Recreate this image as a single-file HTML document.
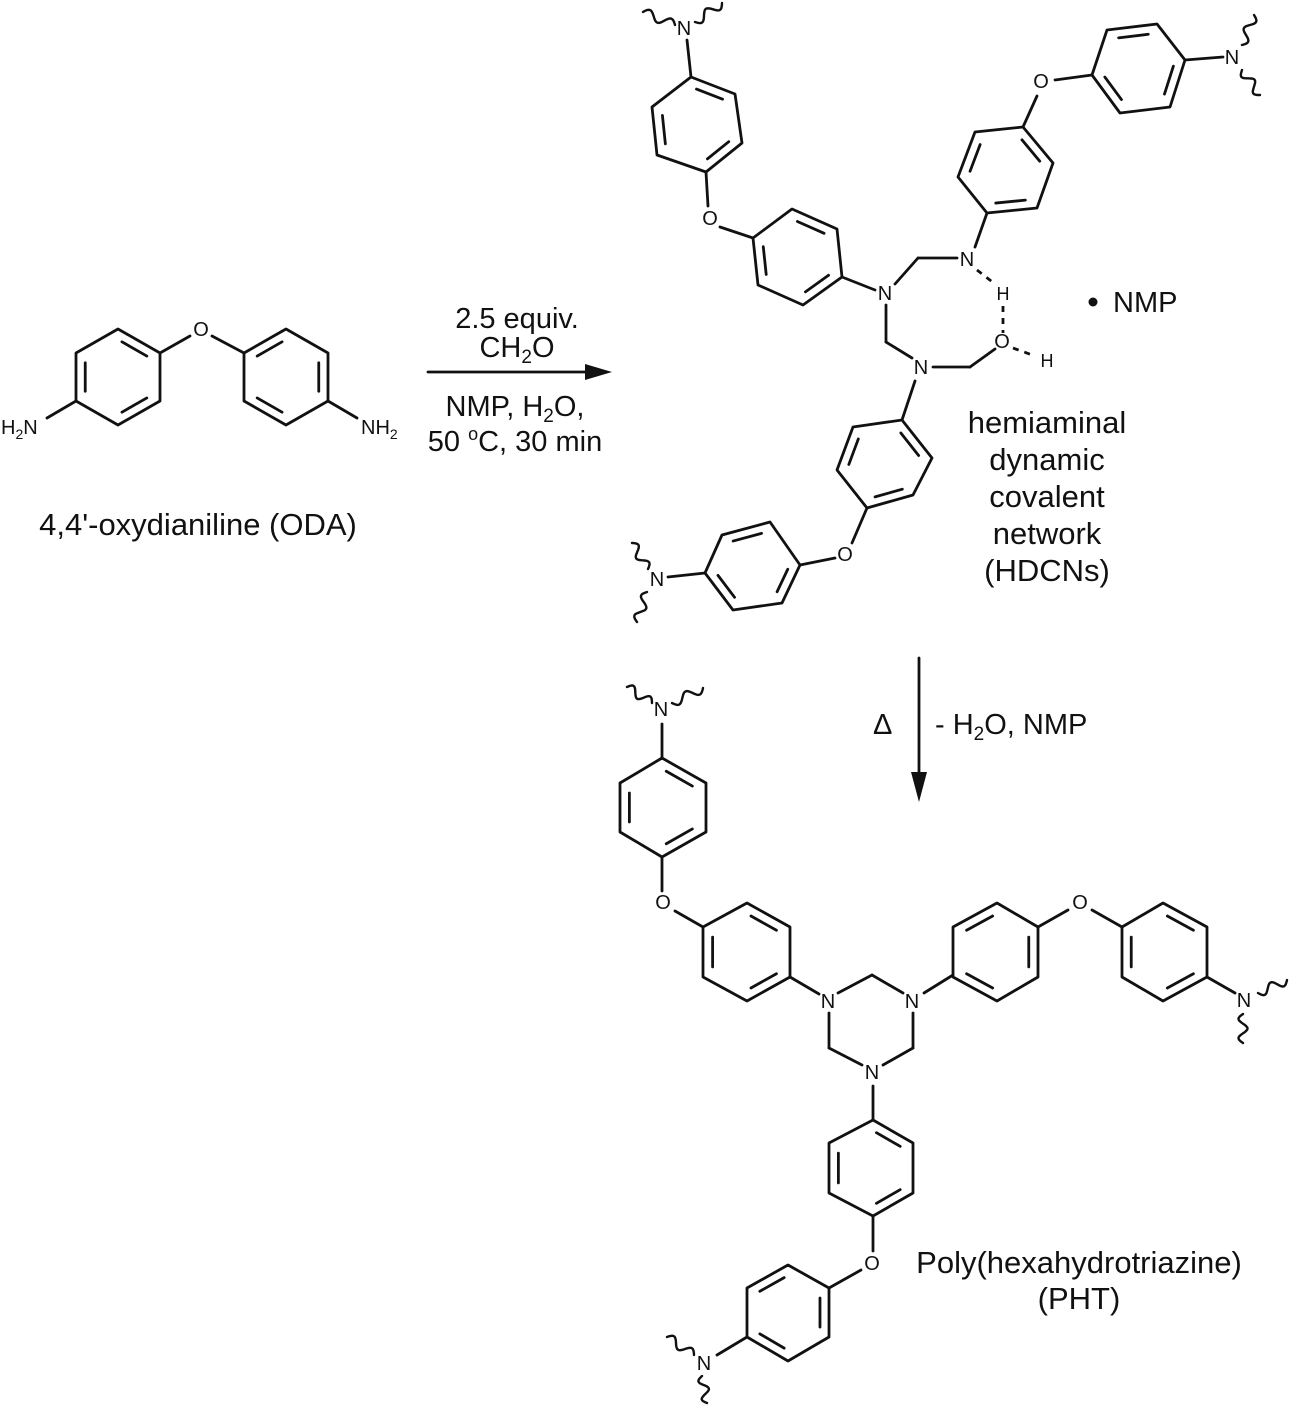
<!DOCTYPE html>
<html><head><meta charset="utf-8"><style>
html,body{margin:0;padding:0;background:#fff;}
svg{display:block;}
text{font-family:"Liberation Sans",Arial,sans-serif;fill:#111;}
.a{font-size:20px;text-anchor:middle;dominant-baseline:central;}
.l{font-size:31px;text-anchor:middle;}
.c{font-size:29px;text-anchor:middle;}
</style></head><body>
<svg id="s" width="1291" height="1410" viewBox="0 0 1291 1410" xmlns="http://www.w3.org/2000/svg">
<g id="g" stroke="#111" stroke-width="2.8" fill="none" stroke-linejoin="round" stroke-linecap="round">
<polygon points="118,329 160,353 160,401 118,425 76,401 76,353"/>
<polygon points="286,329 328,353 328,401 286,425 244,401 244,353"/>
<line x1="160" y1="353" x2="190" y2="336"/><line x1="212" y1="336" x2="244" y2="353"/>
<line x1="76" y1="401" x2="47" y2="418"/><line x1="328" y1="401" x2="357" y2="418"/>
<line x1="428" y1="372" x2="595" y2="372"/>
<line x1="687" y1="40" x2="691" y2="77"/>
<polygon points="691,77 735,94 742,143 706,172 657,155 652,107"/>
<line x1="706" y1="172" x2="708" y2="206"/>
<line x1="720" y1="227" x2="753" y2="238"/>
<polygon points="753,238 792,209 837,229 842,277 803,305 758,285"/>
<line x1="842" y1="277" x2="875" y2="290"/>
<line x1="895" y1="284" x2="918" y2="258"/><line x1="918" y1="258" x2="957" y2="258"/>
<line x1="886" y1="305" x2="886" y2="342"/><line x1="886" y1="342" x2="912" y2="358"/>
<line x1="933" y1="367" x2="970" y2="367"/><line x1="970" y1="367" x2="995" y2="349"/>
<line x1="975" y1="247" x2="987" y2="213"/>
<polygon points="987,213 1037,208 1053,163 1023,127 975,132 958,177"/>
<line x1="1023" y1="127" x2="1037" y2="96"/>
<line x1="1055" y1="80" x2="1092" y2="75"/>
<polygon points="1092,75 1107,30 1157,24 1185,60 1170,107 1120,113"/>
<line x1="1185" y1="60" x2="1223" y2="57"/>
<g stroke-dasharray="6,6" stroke-linecap="butt">
<line x1="977" y1="270" x2="995" y2="284"/>
<line x1="1003" y1="306" x2="1003" y2="333"/>
<line x1="1013" y1="348" x2="1035" y2="356"/>
</g>
<line x1="915" y1="381" x2="902" y2="420"/>
<polygon points="902,420 932,458 913,495 867,508 837,470 853,427"/>
<line x1="867" y1="508" x2="852" y2="543"/>
<line x1="835" y1="558" x2="800" y2="565"/>
<polygon points="800,565 770,522 722,535 705,573 733,610 782,603"/>
<line x1="668" y1="577" x2="705" y2="573"/>
<line x1="919" y1="658" x2="919" y2="780"/>
<line x1="662" y1="724" x2="662" y2="758"/>
<polygon points="662,758 706,783 706,832 662,857 620,832 620,783"/>
<line x1="662" y1="857" x2="662" y2="891"/>
<line x1="675" y1="911" x2="703" y2="927"/>
<polygon points="703,927 747,903 790,927 790,977 747,1001 703,977"/>
<line x1="790" y1="977" x2="819" y2="994"/>
<line x1="838" y1="993" x2="872" y2="975"/><line x1="872" y1="975" x2="903" y2="993"/>
<line x1="829" y1="1013" x2="829" y2="1048"/><line x1="829" y1="1048" x2="862" y2="1065"/>
<line x1="913" y1="1013" x2="913" y2="1048"/><line x1="913" y1="1048" x2="883" y2="1065"/>
<line x1="924" y1="993" x2="953" y2="975"/>
<polygon points="953,927 997,903 1038,927 1038,977 997,1001 953,977"/>
<line x1="1038" y1="927" x2="1068" y2="910"/><line x1="1092" y1="910" x2="1122" y2="927"/>
<polygon points="1122,927 1163,903 1207,927 1207,977 1163,1001 1122,977"/>
<line x1="1207" y1="977" x2="1235" y2="993"/>
<line x1="873" y1="1086" x2="873" y2="1120"/>
<polygon points="873,1120 913,1143 913,1193 873,1216 829,1193 829,1143"/>
<line x1="873" y1="1216" x2="873" y2="1251"/>
<line x1="861" y1="1270" x2="829" y2="1288"/>
<polygon points="829,1288 788,1265 747,1288 747,1337 788,1361 829,1337"/>
<line x1="747" y1="1337" x2="717" y2="1355"/>
</g>
<g fill="#111">
<polygon points="612,372 585,364 585,380"/>
<polygon points="919,802 911,772 927,772"/>
<circle cx="1093" cy="302" r="4.5"/>
</g>
<text class="a" x="201" y="330">O</text>
<text x="1" y="434" style="font-size:20px">H<tspan style="font-size:14px" dy="5">2</tspan><tspan dy="-5">N</tspan></text>
<text x="361" y="434" style="font-size:20px">NH<tspan style="font-size:14px" dy="5">2</tspan></text>
<text class="a" x="684" y="29">N</text>
<text class="a" x="710" y="219">O</text>
<text class="a" x="885" y="294">N</text>
<text class="a" x="967" y="260">N</text>
<text class="a" x="1003" y="294" style="font-size:18px">H</text>
<text class="a" x="1002" y="342">O</text>
<text class="a" x="1047" y="361" style="font-size:18px">H</text>
<text class="a" x="921" y="368">N</text>
<text class="a" x="1041" y="82">O</text>
<text class="a" x="1232" y="58">N</text>
<text class="a" x="845" y="555">O</text>
<text class="a" x="657" y="580">N</text>
<text class="a" x="661" y="710">N</text>
<text class="a" x="663" y="903">O</text>
<text class="a" x="828" y="1002">N</text>
<text class="a" x="912" y="1002">N</text>
<text class="a" x="872" y="1073">N</text>
<text class="a" x="1080" y="903">O</text>
<text class="a" x="1244" y="1001">N</text>
<text class="a" x="872" y="1264">O</text>
<text class="a" x="704" y="1364">N</text>
<text class="l" x="198" y="535">4,4'-oxydianiline (ODA)</text>
<text class="c" x="517" y="328">2.5 equiv.</text>
<text class="c" x="517" y="357">CH<tspan style="font-size:19px" dy="6">2</tspan><tspan dy="-6">O</tspan></text>
<text class="c" x="515" y="416">NMP,  H<tspan style="font-size:19px" dy="6">2</tspan><tspan dy="-6">O,</tspan></text>
<text class="c" x="515" y="451">50 <tspan style="font-size:18px" dy="-11">o</tspan><tspan dy="11">C, 30 min</tspan></text>
<text x="1113" y="312" style="font-size:29px">NMP</text>
<text class="l" x="1047" y="433">hemiaminal</text>
<text class="l" x="1047" y="470">dynamic</text>
<text class="l" x="1047" y="507">covalent</text>
<text class="l" x="1047" y="544">network</text>
<text class="l" x="1047" y="581">(HDCNs)</text>
<text x="873" y="734" style="font-size:29px">Δ</text>
<text x="935" y="734" style="font-size:29px">- H<tspan style="font-size:19px" dy="6">2</tspan><tspan dy="-6">O, NMP</tspan></text>
<text class="l" x="1079" y="1273">Poly(hexahydrotriazine)</text>
<text class="l" x="1079" y="1309">(PHT)</text>
</svg>
<script>
(function(){
var g=document.getElementById('g'),NS='http://www.w3.org/2000/svg';
function ln(a,b,c,d){var l=document.createElementNS(NS,'line');l.setAttribute('x1',a);l.setAttribute('y1',b);l.setAttribute('x2',c);l.setAttribute('y2',d);g.appendChild(l);}
var polys=g.querySelectorAll('polygon');
var sets=[[0,2,4],[1,3,5]];
for(var k=0;k<polys.length;k++){
 var p=polys[k].getAttribute('points').trim().split(/\s+/).map(function(s){return s.split(',').map(Number);});
 var cx=0,cy=0;p.forEach(function(q){cx+=q[0];cy+=q[1];});cx/=6;cy/=6;
 sets[k%2].forEach(function(i){
  var P=p[i],Q=p[(i+1)%6],f=0.78;
  var a=[cx+(P[0]-cx)*f,cy+(P[1]-cy)*f],b=[cx+(Q[0]-cx)*f,cy+(Q[1]-cy)*f];
  var t=0.12;
  ln(a[0]+(b[0]-a[0])*t,a[1]+(b[1]-a[1])*t,b[0]-(b[0]-a[0])*t,b[1]-(b[1]-a[1])*t);
 });
}
function wavy(x1,y1,x2,y2){
 var dx=x2-x1,dy=y2-y1,L=Math.hypot(dx,dy),nx=-dy/L,ny=dx/L,d='';
 for(var i=0;i<=30;i++){var t=i/30,s=Math.sin(t*Math.PI*3)*4.5;
  d+=(i?'L':'M')+(x1+dx*t+nx*s).toFixed(1)+','+(y1+dy*t+ny*s).toFixed(1);}
 var p=document.createElementNS(NS,'path');p.setAttribute('d',d);p.setAttribute('stroke-width','2.4');g.appendChild(p);
}
wavy(675,25,643,12);wavy(695,22,722,3);
wavy(1242,45,1254,15);wavy(1242,70,1260,95);
wavy(648,569,632,543);wavy(647,592,637,622);
wavy(652,703,627,687);wavy(672,703,703,688);
wavy(1258,993,1287,980);wavy(1243,1014,1243,1043);
wavy(694,1355,667,1337);wavy(702,1376,707,1403);
})();
</script>
</body></html>
